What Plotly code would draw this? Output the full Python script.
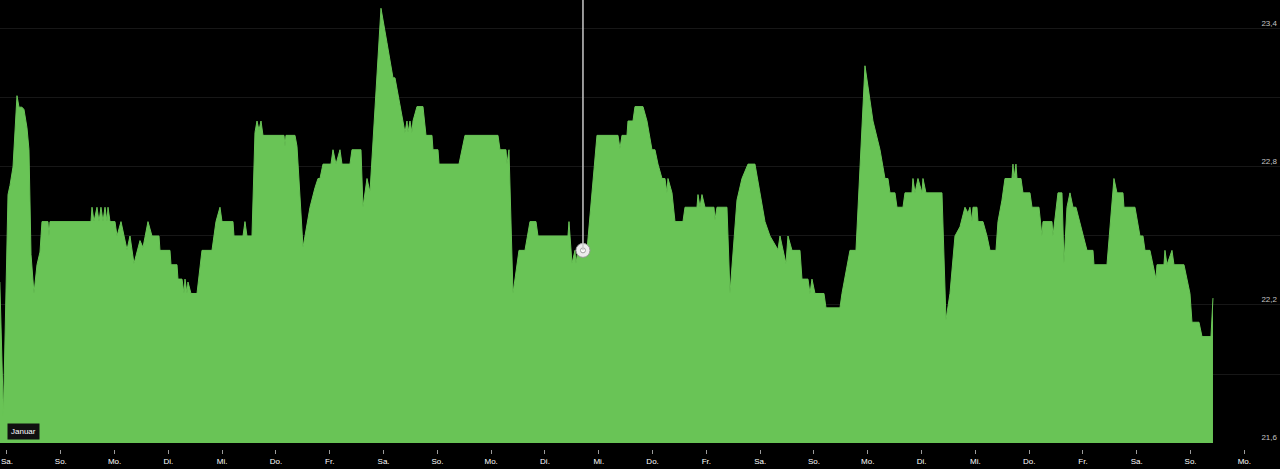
import plotly.graph_objects as go

# Hours since 1 Jan 00:00 (Saturday) and room temperature in °C
hours = [
    -3.2, -1.6, 0.45, 1.34, 2.68, 4.46, 5.35, 6.69, 7.58, 8.92, 9.81, 10.71, 12.04, 13.38, 14.72,
    15.61, 18.29, 18.74, 19.18, 37.47, 37.92, 38.81, 40.15, 41.04, 41.93, 42.83, 43.72, 44.61,
    45.06, 45.95, 48.18, 49.07, 50.86, 53.53, 54.87, 56.65, 59.33, 60.67, 62.90, 64.68, 67.81,
    68.25, 72.71, 73.16, 75.84, 76.28, 78.07, 78.96, 79.41, 80.30, 80.74, 82.08, 84.76, 86.99,
    91.45, 93.23, 95.02, 95.91, 100.82, 101.26, 105.28, 106.17, 107.06, 109.29, 110.63, 111.53,
    112.42, 113.31, 114.20, 123.57, 124.02, 124.46, 128.48, 129.37, 132.05, 135.17, 137.40, 138.74,
    139.63, 140.97, 144.54, 145.43, 146.77, 148.55, 149.44, 153.01, 153.90, 157.92, 158.81, 160.60,
    161.93, 166.84, 169.52, 172.19, 173.09, 177.55, 178.44, 178.89, 179.78, 180.67, 181.12, 182.90,
    185.58, 186.92, 189.59, 190.04, 192.27, 192.72, 201.64, 202.98, 204.31, 219.04, 219.93, 222.60,
    223.05, 223.94, 225.73, 228.40, 231.08, 233.31, 235.99, 236.88, 250.26, 250.71, 252.05, 253.38,
    253.83, 254.72, 258.74, 263.20, 272.57, 273.46, 274.35, 276.58, 277.03, 279.26, 280.15, 283.72,
    285.50, 287.73, 289.07, 290.41, 292.20, 293.53, 294.43, 294.87, 296.66, 297.99, 301.56, 302.46,
    307.81, 308.26, 309.15, 310.04, 311.38, 315.39, 315.84, 316.73, 321.19, 322.53, 325.65, 327.88,
    330.56, 333.68, 335.02, 338.14, 340.37, 343.94, 344.84, 347.51, 348.40, 350.19, 353.76, 354.65,
    357.33, 358.22, 359.11, 360.45, 364.46, 365.36, 371.60, 372.49, 376.06, 378.74, 382.75, 386.32,
    389.45, 391.68, 393.01, 393.91, 396.14, 397.03, 399.71, 400.60, 403.72, 404.17, 405.06, 406.40,
    408.18, 408.63, 409.97, 417.10, 418.89, 420.67, 422.90, 425.13,
    427.36, 428.70, 429.59, 430.49, 430.93, 432.72, 433.16, 435.39, 437.18, 438.52, 441.19, 442.09,
    443.87, 445.21, 448.33, 448.78, 449.22, 450.11, 450.56, 452.35, 453.24, 456.36, 457.25, 460.38,
    461.71, 462.16, 466.17, 466.62, 468.85, 470.64, 471.53, 472.87, 474.21, 475.54, 476.88, 480.00,
    481.79, 484.47, 484.91, 490.71, 493.83, 495.17, 497.85, 498.29, 503.20, 505.43, 506.77, 507.66,
    509.89, 511.23, 512.57, 513.02, 516.14, 516.59, 517.48, 519.71, 520.60, 525.06, 526.40, 527.74,
    528.63, 531.76, 533.10, 537.11, 538.00,
]

temps = [
    22.30, 21.72, 22.68, 22.72, 22.80, 23.11, 23.06, 23.06, 23.05, 22.97, 22.875, 22.42, 22.25, 22.375, 22.43,
    22.5625, 22.5625, 22.5, 22.5625, 22.5625, 22.625, 22.5625, 22.625, 22.5625, 22.625, 22.5625, 22.625, 22.5625,
    22.625, 22.5625, 22.5625, 22.5, 22.5625, 22.44, 22.5, 22.38, 22.48, 22.45, 22.5625, 22.5, 22.5,
    22.4375, 22.4375, 22.375, 22.375, 22.3125, 22.3125, 22.25, 22.3125, 22.25, 22.30, 22.25, 22.25, 22.4375,
    22.4375, 22.5625, 22.625, 22.5625, 22.5625, 22.5, 22.5, 22.5625, 22.5, 22.5, 22.95, 23.0,
    22.96, 23.0, 22.9375, 22.9375, 22.89, 22.9375, 22.9375, 22.89, 22.45, 22.625, 22.71, 22.75,
    22.75, 22.8125, 22.8125, 22.875, 22.8125, 22.875, 22.8125, 22.8125, 22.875, 22.875, 22.625, 22.75,
    22.69, 23.49, 23.34, 23.1875, 23.1875, 22.95, 23.0, 22.95, 23.0, 22.95, 23.0, 23.0625,
    23.0625, 22.9375, 22.9375, 22.875, 22.875, 22.8125, 22.8125, 22.875, 22.9375, 22.9375, 22.875, 22.875,
    22.8125, 22.875, 22.25, 22.4375, 22.4375, 22.5625, 22.5625, 22.5, 22.5, 22.5625, 22.38, 22.4375,
    22.38, 22.4375, 22.4375, 22.9375, 22.9375, 22.88, 22.9375, 22.9375, 23.0, 23.0, 23.0625, 23.0625,
    23.0, 22.875, 22.875, 22.8125, 22.75, 22.75, 22.6875, 22.75, 22.6875, 22.5625, 22.5625, 22.625,
    22.625, 22.68, 22.625, 22.68, 22.625, 22.625, 22.57, 22.625, 22.625, 22.25, 22.656, 22.75,
    22.8125, 22.8125, 22.735, 22.5625, 22.5, 22.44, 22.5, 22.38, 22.5, 22.4375, 22.4375, 22.3125,
    22.3125, 22.25, 22.3125, 22.25, 22.25, 22.1875, 22.1875, 22.25, 22.4375, 22.4375, 23.24, 23.0,
    22.875, 22.75, 22.75, 22.6875, 22.6875, 22.625, 22.625, 22.6875, 22.6875, 22.75, 22.6875, 22.75,
    22.6875, 22.75, 22.6875, 22.6875, 22.135, 22.25, 22.5, 22.54,
    22.625, 22.6, 22.625, 22.5625, 22.625, 22.625, 22.5625, 22.5625, 22.5, 22.4375, 22.4375, 22.5625,
    22.656, 22.75, 22.75, 22.8125, 22.75, 22.8125, 22.75, 22.75, 22.6875, 22.6875, 22.625, 22.625,
    22.5, 22.5625, 22.5625, 22.5, 22.6875, 22.6875, 22.38, 22.625, 22.6875, 22.625, 22.625, 22.5,
    22.4375, 22.4375, 22.375, 22.375, 22.75, 22.6875, 22.6875, 22.625, 22.625, 22.5, 22.5, 22.4375,
    22.4375, 22.375, 22.3125, 22.375, 22.375, 22.4375, 22.375, 22.4375, 22.375, 22.375, 22.3125, 22.25,
    22.125, 22.125, 22.0625, 22.0625, 22.23,
]

day_tickvals = [24 * d for d in range(24)]
day_labels = ["Sa.", "So.", "Mo.", "Di.", "Mi.", "Do.", "Fr."] * 3 + ["Sa.", "So.", "Mo."]

y_tickvals = [21.6, 21.9, 22.2, 22.5, 22.8, 23.1, 23.4]
y_ticktext = ["21,6", "", "22,2", "", "22,8", "", "23,4"]

cursor_hour = 256.95
cursor_temp = 22.4375

GREEN = "#69c456"

fig = go.Figure()
fig.add_trace(go.Scatter(
    x=hours, y=temps, mode="lines", fill="tozeroy",
    fillcolor=GREEN, line=dict(color=GREEN, width=1),
    hoverinfo="skip", showlegend=False,
))

fig.add_shape(type="line", xref="x", yref="y",
              x0=cursor_hour, x1=cursor_hour, y0=cursor_temp, y1=23.6,
              line=dict(color="#c8c8c8", width=1.5))
fig.add_trace(go.Scatter(
    x=[cursor_hour], y=[cursor_temp], mode="markers",
    marker=dict(size=14, color="#ececec", line=dict(color="#9a9a9a", width=1)),
    hoverinfo="skip", showlegend=False,
))
fig.add_trace(go.Scatter(
    x=[cursor_hour], y=[cursor_temp], mode="markers",
    marker=dict(size=5, color="#ffffff", line=dict(color="#a0a0a0", width=1)),
    hoverinfo="skip", showlegend=False,
))

fig.add_annotation(
    text="Januar", xref="paper", yref="paper", x=23 / 1280, y=(449 - 431) / 449,
    xanchor="center", yanchor="middle", showarrow=False,
    font=dict(size=8, color="#ffffff", family="Liberation Sans, Arial, sans-serif"),
    bgcolor="#101010", borderpad=3,
)

fig.update_layout(
    width=1280, height=469,
    margin=dict(l=0, r=0, t=0, b=20),
    paper_bgcolor="#000000", plot_bgcolor="#000000",
    font=dict(family="Liberation Sans, Arial, sans-serif", size=8, color="#dddddd"),
    xaxis=dict(
        range=[-3.12, 567.9], tickvals=day_tickvals, ticktext=day_labels,
        showgrid=False, zeroline=False, showline=False,
        ticks="outside", ticklen=4, tickwidth=1, tickcolor="#9a9a9a",
        tickfont=dict(size=8, color="#ffffff"),
        anchor="free", position=0, fixedrange=True,
    ),
    yaxis=dict(
        range=[21.6, 23.526], tickvals=y_tickvals, ticktext=y_ticktext,
        side="right", ticklabelposition="inside top",
        showgrid=True, gridcolor="#171717", gridwidth=1,
        zeroline=False, showline=False,
        tickfont=dict(size=8, color="#c4c4c4"),
        domain=[6 / 449, 1], fixedrange=True,
    ),
    hovermode=False,
)

fig.write_html(
    "out.html",
    config={"displayModeBar": False},
    post_script="document.body.style.margin='0';document.body.style.background='#000';",
)
